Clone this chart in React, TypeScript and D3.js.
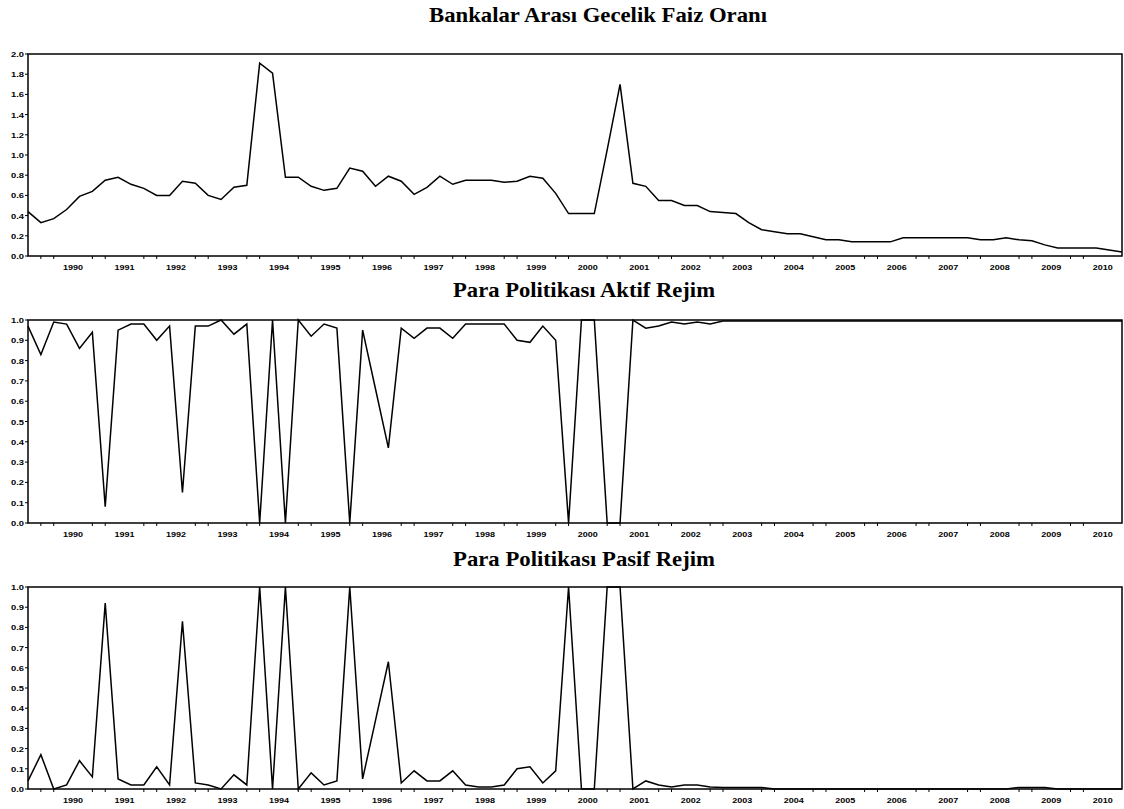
import React, { useEffect, useRef } from "react";
import * as d3 from "d3";

// quarterly observations, 1989Q3 .. 2010Q4
const faizOrani = [
  0.44, 0.33, 0.37, 0.46, 0.59, 0.64, 0.75, 0.78, 0.71, 0.67,
  0.6, 0.6, 0.74, 0.72, 0.6, 0.56, 0.68, 0.7, 1.91, 1.81,
  0.78, 0.78, 0.69, 0.65, 0.67, 0.87, 0.84, 0.69, 0.79, 0.74,
  0.61, 0.68, 0.79, 0.71, 0.75, 0.75, 0.75, 0.73, 0.74, 0.79,
  0.77, 0.62, 0.42, 0.42, 0.42, 1.05, 1.7, 0.72, 0.69, 0.55,
  0.55, 0.5, 0.5, 0.44, 0.43, 0.42, 0.33, 0.26, 0.24, 0.22,
  0.22, 0.19, 0.16, 0.16, 0.14, 0.14, 0.14, 0.14, 0.18, 0.18,
  0.18, 0.18, 0.18, 0.18, 0.16, 0.16, 0.18, 0.16, 0.15, 0.11,
  0.08, 0.08, 0.08, 0.08, 0.06, 0.04,
];

const aktifRejim = [
  0.97, 0.83, 0.99, 0.98, 0.86, 0.94, 0.08, 0.95, 0.98, 0.98,
  0.9, 0.97, 0.15, 0.97, 0.97, 1.0, 0.93, 0.98, 0.0, 1.0,
  0.0, 1.0, 0.92, 0.98, 0.96, 0.0, 0.95, 0.66, 0.37, 0.96,
  0.91, 0.96, 0.96, 0.91, 0.98, 0.98, 0.98, 0.98, 0.9, 0.89,
  0.97, 0.9, 0.0, 1.0, 1.0, 0.0, 0.0, 1.0, 0.96, 0.97,
  0.99, 0.98, 0.99, 0.98, 0.995, 0.995, 0.995, 0.995, 0.995, 0.995,
  0.995, 0.995, 0.995, 0.995, 0.995, 0.995, 0.995, 0.995, 0.995, 0.995,
  0.995, 0.995, 0.995, 0.995, 0.995, 0.995, 0.995, 0.995, 0.995, 0.995,
  0.995, 0.995, 0.995, 0.995, 0.995, 0.995,
];

const pasifRejim = [
  0.04, 0.17, 0.0, 0.02, 0.14, 0.06, 0.92, 0.05, 0.02, 0.02,
  0.11, 0.02, 0.83, 0.03, 0.02, 0.0, 0.07, 0.02, 1.0, 0.0,
  1.0, 0.0, 0.08, 0.02, 0.04, 1.0, 0.05, 0.34, 0.63, 0.03,
  0.09, 0.04, 0.04, 0.09, 0.02, 0.01, 0.01, 0.02, 0.1, 0.11,
  0.03, 0.09, 1.0, 0.0, 0.0, 1.0, 1.0, 0.0, 0.04, 0.02,
  0.01, 0.02, 0.02, 0.01, 0.008, 0.008, 0.008, 0.008, 0.0, 0.0,
  0.0, 0.0, 0.0, 0.0, 0.0, 0.0, 0.0, 0.0, 0.0, 0.0,
  0.0, 0.0, 0.0, 0.0, 0.0, 0.0, 0.0, 0.008, 0.008, 0.008,
  0.0, 0.0, 0.0, 0.0, 0.0, 0.0,
];

const yearLabels = [
  "1990", "1991", "1992", "1993", "1994", "1995", "1996", "1997", "1998", "1999",
  "2000", "2001", "2002", "2003", "2004", "2005", "2006", "2007", "2008", "2009", "2010",
];

const panels = [
  { title: "Bankalar Arası Gecelik Faiz Oranı", data: faizOrani, max: 2.0, step: 0.2, top: 54, bottom: 256, titleX: 598, titleY: 22 },
  { title: "Para Politikası Aktif Rejim", data: aktifRejim, max: 1.0, step: 0.1, top: 320, bottom: 523, titleX: 584, titleY: 297 },
  { title: "Para Politikası Pasif Rejim", data: pasifRejim, max: 1.0, step: 0.1, top: 587, bottom: 789, titleX: 584, titleY: 566 },
];

const App: React.FC = () => {
  const svgRef = useRef<SVGSVGElement | null>(null);
  const width = 1124;
  const height = 809;
  const left = 28;
  const right = 1122;

  useEffect(() => {
    const svg = d3.select(svgRef.current);
    svg.selectAll("*").remove();
    svg.attr("width", width).attr("height", height);

    svg.append("rect").attr("width", width).attr("height", height).attr("fill", "#fff");

    const x = d3.scaleLinear().domain([0, faizOrani.length - 1]).range([left, right]);

    panels.forEach((p) => {
      const y = d3.scaleLinear().domain([0, p.max]).range([p.bottom, p.top]);
      const g = svg.append("g");

      g.append("text")
        .attr("x", p.titleX)
        .attr("y", p.titleY)
        .attr("text-anchor", "middle")
        .style("font-family", "'Liberation Serif', 'DejaVu Serif', serif")
        .style("font-weight", "bold")
        .style("font-size", "22px")
        .attr("textLength", p.title.length > 30 ? 338 : 262)
        .attr("lengthAdjust", "spacingAndGlyphs")
        .text(p.title);

      // y ticks
      const yTicks = d3.range(0, p.max + p.step / 2, p.step);
      yTicks.forEach((t) => {
        g.append("line")
          .attr("x1", left - 3)
          .attr("x2", left)
          .attr("y1", y(t))
          .attr("y2", y(t))
          .attr("stroke", "#000")
          .attr("stroke-width", 1);
        g.append("text")
          .attr("x", left - 4)
          .attr("y", y(t) + 3)
          .attr("text-anchor", "end")
          .style("font-family", "'Liberation Sans', Arial, sans-serif")
          .style("font-weight", "bold")
          .style("font-size", "8px")
          .attr("textLength", 13)
          .attr("lengthAdjust", "spacingAndGlyphs")
          .text(t.toFixed(1));
      });

      // x ticks: two per year, label centred on the year's quarters
      yearLabels.forEach((lab, k) => {
        [4 * k + 1, 4 * k + 2].forEach((q) => {
          g.append("line")
            .attr("x1", x(q))
            .attr("x2", x(q))
            .attr("y1", p.bottom)
            .attr("y2", p.bottom + 3)
            .attr("stroke", "#000")
            .attr("stroke-width", 1);
        });
        g.append("text")
          .attr("x", x(4 * k + 3.5))
          .attr("y", p.bottom + 14)
          .attr("text-anchor", "middle")
          .style("font-family", "'Liberation Sans', Arial, sans-serif")
          .style("font-weight", "bold")
          .style("font-size", "8px")
          .attr("textLength", 20)
          .attr("lengthAdjust", "spacingAndGlyphs")
          .text(lab);
      });

      const line = d3
        .line<number>()
        .x((_, i) => x(i))
        .y((d) => y(d));

      g.append("path")
        .datum(p.data)
        .attr("fill", "none")
        .attr("stroke", "#000")
        .attr("stroke-width", 1.5)
        .attr("d", line);

      g.append("rect")
        .attr("x", left)
        .attr("y", p.top)
        .attr("width", right - left)
        .attr("height", p.bottom - p.top)
        .attr("fill", "none")
        .attr("stroke", "#000")
        .attr("stroke-width", 1.5);
    });
  }, []);

  return <svg ref={svgRef} style={{ position: "absolute", left: 0, top: 0 }}></svg>;
};

export default App;
